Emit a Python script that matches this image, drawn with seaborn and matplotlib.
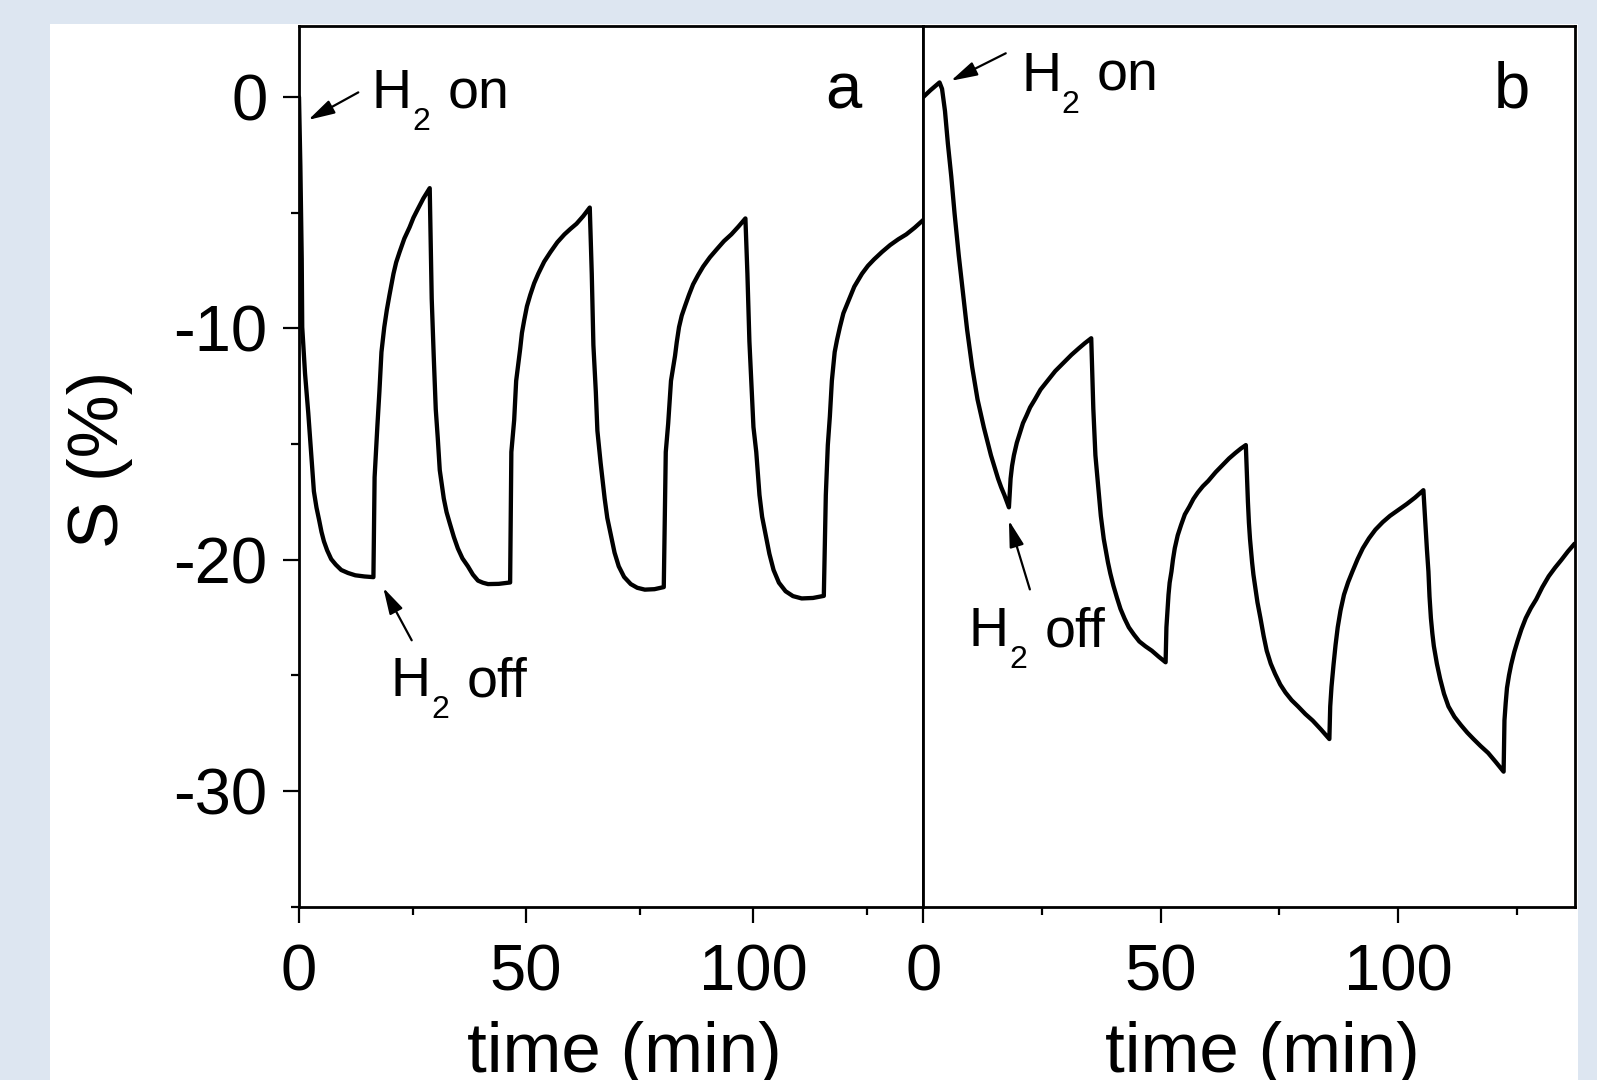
import matplotlib
matplotlib.use("Agg")
import matplotlib.pyplot as plt
from matplotlib.patches import Rectangle
import seaborn as sns

# panel a: sensor response, 4 H2 on/off cycles
time_a = [0.0, 0.3, 0.6, 0.71, 1.33, 2.04, 2.66, 3.28, 3.85, 4.43, 4.95, 5.49, 6.2, 7.09, 8.1, 9.30, 10.8, 12.40, 14.4, 16.39,
          16.65, 17.27, 17.71, 18.16, 18.78, 19.35, 19.93, 20.81, 21.4, 22.14, 23.2, 24.36, 25.2, 26.13, 27.4, 28.79,
          29.23, 29.67, 30.12, 30.56, 31.00, 31.89, 32.5, 33.22, 34.1, 34.99, 36.0, 37.20, 38.3, 39.42, 40.5, 41.63, 44.0, 46.50,
          46.77, 47.39, 47.83, 48.72, 49.1, 49.60, 50.2, 50.93, 51.8, 52.70, 54.0, 55.36, 56.9, 58.46, 59.8, 61.12, 62.6, 64.04,
          64.48, 64.84, 65.37, 65.72, 66.43, 67.32, 67.9, 68.64, 69.5, 70.42, 71.6, 73.07, 74.5, 76.17, 78.3, 80.34,
          80.78, 81.31, 81.93, 82.82, 83.2, 83.70, 84.3, 85.03, 85.9, 86.80, 87.9, 89.02, 90.5, 92.12, 93.6, 95.22, 96.8, 98.32,
          98.76, 99.20, 99.65, 100.09, 100.71, 101.42, 102.0, 102.75, 103.6, 104.52, 105.7, 107.17, 108.8, 110.72, 113.2, 115.59,
          116.03, 116.47, 116.92, 117.36, 117.98, 118.5, 119.13, 119.9, 120.90, 122.3, 124.00, 125.3, 126.66, 128.4, 130.20,
          132.0, 133.75, 135.6, 137.47]
s_a = [0.0, -3.0, -7.0, -9.95, -11.96, -13.66, -15.35, -17.05, -17.75, -18.29, -18.8, -19.21, -19.6, -19.98, -20.22, -20.45, -20.58, -20.68, -20.73, -20.76,
       -16.44, -14.20, -12.73, -11.03, -9.95, -9.2, -8.56, -7.64, -7.15, -6.71, -6.12, -5.63, -5.22, -4.86, -4.38, -3.94,
       -8.72, -11.19, -13.50, -14.74, -16.13, -17.36, -17.95, -18.44, -19.02, -19.52, -19.95, -20.29, -20.65, -20.91, -21.0, -21.06, -21.05, -20.99,
       -15.35, -13.97, -12.27, -10.88, -10.2, -9.65, -9.05, -8.56, -8.05, -7.64, -7.12, -6.71, -6.28, -5.94, -5.7, -5.48, -5.15, -4.78,
       -7.64, -10.73, -12.73, -14.43, -15.82, -17.36, -18.2, -18.90, -19.7, -20.29, -20.75, -21.06, -21.22, -21.30, -21.28, -21.19,
       -15.35, -14.12, -12.27, -11.19, -10.6, -9.95, -9.45, -9.03, -8.55, -8.10, -7.7, -7.33, -6.93, -6.56, -6.23, -5.94, -5.6, -5.25,
       -7.64, -10.57, -12.42, -14.27, -15.35, -17.21, -18.15, -18.90, -19.75, -20.45, -21.0, -21.37, -21.58, -21.68, -21.66, -21.57,
       -17.21, -15.05, -13.81, -12.27, -11.03, -10.5, -9.95, -9.35, -8.87, -8.2, -7.64, -7.3, -7.02, -6.7, -6.40,
       -6.15, -5.94, -5.65, -5.32]

# panel b: drifting response
time_b = [0.0, 1.49, 3.42, 3.95, 4.57, 5.18, 5.89, 6.59, 7.47, 8.35, 9.23, 10.29, 11.43, 12.76, 14.25, 15.75, 16.4, 17.07, 18.04,
          18.39, 18.7, 19.09, 19.7, 20.41, 21.0, 21.73, 22.5, 23.50, 24.7, 26.14, 27.8, 29.66, 31.2, 32.74, 34.0, 35.38,
          35.82, 36.26, 36.70, 37.40, 38.02, 38.90, 39.4, 40.04, 40.8, 41.54, 42.4, 43.30, 44.4, 45.51, 46.8, 48.14, 49.6, 51.05,
          51.22, 51.66, 51.9, 52.28, 52.6, 52.98, 53.6, 54.30, 55.1, 56.06, 56.9, 57.83, 58.9, 60.03, 61.6, 63.11, 64.4, 65.75, 66.9, 67.95,
          68.39, 68.6, 68.83, 69.27, 69.55, 69.89, 70.4, 71.03, 71.7, 72.35, 73.2, 74.11, 75.2, 76.31, 77.6, 78.95, 80.5, 82.03, 83.8, 85.55,
          85.73, 86.0, 86.43, 86.85, 87.31, 87.9, 88.63, 89.5, 90.40, 91.5, 92.60, 93.9, 95.24, 96.8, 98.32, 100.1, 101.84, 103.6, 105.36,
          105.80, 106.1, 106.42, 106.65, 106.94, 107.25, 107.56, 108.2, 108.88, 109.7, 110.64, 111.9, 113.28, 114.6, 115.92, 117.4,
          119.00, 120.6, 122.26,
          122.44, 122.7, 122.97, 123.4, 123.85, 124.5, 125.17, 126.0, 126.93, 128.0, 129.13, 130.4, 131.77, 133.1, 134.41, 135.8, 137.23]
s_b = [0.0, 0.29, 0.63, 0.35, -0.61, -2.02, -3.43, -5.04, -6.85, -8.45, -10.06, -11.67, -13.08, -14.29, -15.49, -16.50, -16.87, -17.20, -17.74,
       -16.50, -15.95, -15.49, -14.95, -14.49, -14.1, -13.78, -13.42, -13.08, -12.65, -12.28, -11.85, -11.47, -11.15, -10.87, -10.65, -10.43,
       -13.48, -15.49, -16.50, -18.11, -19.11, -20.12, -20.6, -21.12, -21.65, -22.13, -22.55, -22.93, -23.25, -23.54, -23.75, -23.94, -24.2, -24.44,
       -22.93, -21.52, -21.0, -20.52, -20.0, -19.51, -18.95, -18.51, -18.05, -17.71, -17.38, -17.10, -16.83, -16.60, -16.22, -15.90, -15.63, -15.39, -15.2, -15.05,
       -17.50, -18.4, -19.11, -20.12, -20.65, -21.12, -21.85, -22.53, -23.3, -23.94, -24.5, -24.94, -25.4, -25.75, -26.08, -26.35, -26.68, -26.96, -27.35, -27.76,
       -26.35, -25.5, -24.54, -23.7, -22.93, -22.2, -21.52, -20.98, -20.52, -19.98, -19.51, -19.08, -18.71, -18.38, -18.11, -17.85, -17.60, -17.32, -17.00,
       -18.51, -19.55, -20.52, -21.6, -22.53, -23.2, -23.74, -24.5, -25.15, -25.8, -26.35, -26.8, -27.16, -27.48, -27.76, -28.06,
       -28.36, -28.75, -29.17,
       -26.95, -26.2, -25.55, -25.0, -24.54, -24.0, -23.54, -23.02, -22.53, -22.1, -21.72, -21.2, -20.72, -20.35, -20.02, -19.65, -19.31]

x_major = [0, 50, 100]
x_minor = [25, 75, 125]
y_major = [0, -10, -20, -30]
y_minor = [-5, -15, -25, -35]

sns.set_style("ticks")
plt.rcParams['font.family'] = ['Liberation Sans', 'DejaVu Sans']
plt.rcParams['axes.unicode_minus'] = False
for key in ['text.color', 'axes.labelcolor', 'xtick.color', 'ytick.color', 'axes.edgecolor']:
    plt.rcParams[key] = 'black'

W, H = 1597, 1080
fig = plt.figure(figsize=(W / 100, H / 100), dpi=100, facecolor='#dde6f1')
fig.patches.append(Rectangle((50 / W, 0), 1528 / W, 1056 / H, transform=fig.transFigure,
                             facecolor='white', edgecolor='none', zorder=-1))

bottom = 1 - 906.5 / H
height = 880.5 / H
ax_a = fig.add_axes([299 / W, bottom, 624.3 / W, height])
ax_b = fig.add_axes([923.3 / W, bottom, 651.7 / W, height], sharey=ax_a)

sns.lineplot(x=time_a, y=s_a, ax=ax_a, color='black', lw=3.1, sort=False, estimator=None)
sns.lineplot(x=time_b, y=s_b, ax=ax_b, color='black', lw=3.1, sort=False, estimator=None)

ax_a.set_xlim(0, 137.5)
ax_b.set_xlim(0, 137.3)
ax_a.set_ylim(-35, 3.07)

for ax in (ax_a, ax_b):
    ax.set_facecolor('white')
    ax.set_xticks(x_major)
    ax.set_xticks(x_minor, minor=True)
    for sp in ax.spines.values():
        sp.set_linewidth(2)
        sp.set_color('black')
    ax.tick_params(which='major', direction='out', length=11.5, width=1.6, labelsize=47, pad=15, color='black')
    ax.tick_params(which='minor', direction='out', length=6, width=1.6, color='black')
    ax.set_xlabel('time (min)', fontsize=51, va='top')

ax_a.set_yticks(y_major)
ax_a.set_yticks(y_minor, minor=True)
ax_a.tick_params(axis='y', which='major', pad=11)
ax_b.tick_params(axis='y', which='both', left=False, labelleft=False)

ax_a.set_ylabel('S (%)', fontsize=51)
ax_a.yaxis.set_label_coords(-0.266, 0.508)
ax_a.xaxis.set_label_coords(0.5206, -0.130)
ax_b.xaxis.set_label_coords(0.5197, -0.130)

ax_a.text(120.0, -0.48, 'a', fontsize=47, ha='center', va='baseline')
ax_b.text(124.0, -0.475, 'b', fontsize=47, ha='center', va='baseline')


def h2_label(ax, x, y, word):
    # H with a dropped subscript 2, then the word
    kw = dict(xy=(x, y), textcoords='offset points', va='baseline', ha='left')
    ax.annotate('H', xytext=(0, 0), fontsize=40, **kw)
    ax.annotate('2', xytext=(29.2, -15.8), fontsize=23, **kw)
    ax.annotate(word, xytext=(54.5, 0), fontsize=40, **kw)


def arrow(ax, tail, tip):
    ax.annotate('', xy=tip, xytext=tail,
                arrowprops=dict(arrowstyle='-|>,head_length=0.8,head_width=0.22',
                                mutation_scale=20, lw=1.6, color='black',
                                shrinkA=0, shrinkB=0))


h2_label(ax_a, 15.97, -0.49, 'on')
arrow(ax_a, (13.06, 0.20), (2.05, -0.99))
h2_label(ax_a, 20.15, -25.90, 'off')
arrow(ax_a, (24.82, -23.49), (18.57, -21.22))

h2_label(ax_b, 20.6, 0.27, 'on')
arrow(ax_b, (17.37, 1.89), (5.82, 0.70))
h2_label(ax_b, 9.53, -23.74, 'off')
arrow(ax_b, (22.45, -21.29), (18.04, -18.31))

fig.savefig('out.png', dpi=100, facecolor=fig.get_facecolor())
